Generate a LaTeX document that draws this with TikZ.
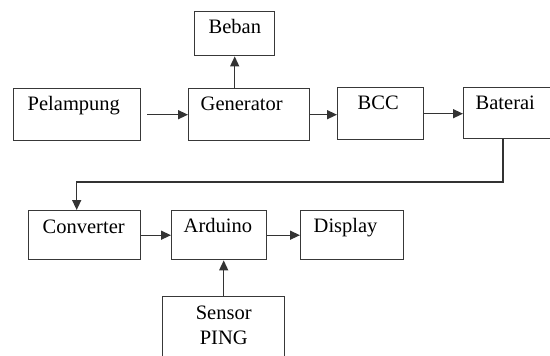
\documentclass[tikz,border=0pt]{standalone}
\usepackage{fontspec}
\setmainfont{Liberation Serif}
\usetikzlibrary{arrows.meta}
\tikzset{
  kotak/.style={draw=black!78, line width=1.4pt, anchor=north west, inner ysep=0pt, align=left, font=\fontsize{20.5}{25}\selectfont},
  panah/.style={draw=black!80, line width=1.4pt, -{Triangle[length=10pt,width=9pt]}}
}
\begin{document}
\begin{tikzpicture}[x=1pt,y=-1pt]
\useasboundingbox (0,0) rectangle (550,356);
\clip (0,0) rectangle (550,356);
\node[kotak, inner xsep=14pt, text width=52pt, text height=22pt, text depth=22pt] (beban) at (194,11){Beban};
\node[kotak, inner xsep=14pt, text width=99pt, text height=22pt, text depth=30pt] (pel) at (13,88){Pelampung};
\node[kotak, inner xsep=12pt, text width=97pt, text height=22pt, text depth=30pt] (gen) at (188,88){Generator};
\node[kotak, inner xsep=20pt, text width=46pt, text height=22pt, text depth=30pt] (bcc) at (337,87){BCC};
\node[kotak, inner xsep=12pt, text width=76pt, text height=22pt, text depth=29pt] (bat) at (463,87){Baterai};
\node[kotak, inner xsep=14pt, text width=84pt, text height=23pt, text depth=26pt] (conv) at (28,210){Converter};
\node[kotak, inner xsep=12pt, text width=71pt, text height=22pt, text depth=27pt] (ard) at (171,210){Arduino};
\node[kotak, inner xsep=13pt, text width=77pt, text height=22pt, text depth=27pt] (disp) at (300,210){Display};
\node[kotak, align=center, inner xsep=6pt, text width=110pt, text height=23pt, text depth=47pt] (sensor) at (162,296){Sensor\\PING};
\coordinate (tekuk) at (503,182);
\draw[panah] ([xshift=6pt]pel.east) -- (gen.west |- pel.east);
\draw[panah] (beban.south |- gen.north) -- (beban.south);
\draw[panah] (gen.east) -- (bcc.west |- gen.east);
\draw[panah] (bcc.east) -- (bat.west |- bcc.east);
\draw[panah] (tekuk |- bat.south) -- (tekuk) -| ([xshift=-8pt]conv.north);
\draw[panah] (conv.east) -- (ard.west |- conv.east);
\draw[panah] (ard.east) -- (disp.west |- ard.east);
\draw[panah] (sensor.north) -- (sensor.north |- ard.south);
\end{tikzpicture}
\end{document}
